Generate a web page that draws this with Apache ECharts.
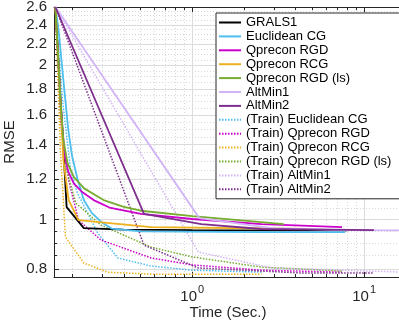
<!DOCTYPE html>
<html><head><meta charset="utf-8">
<script src="https://cdn.jsdelivr.net/npm/echarts@6/dist/echarts.min.js"></script>
<style>html,body{margin:0;padding:0;background:#fff}#c{width:399px;height:322px}</style>
</head><body><div id="c"></div>
<script>
// ---- data (time in seconds, RMSE) ----
const names = ['GRALS1','Euclidean CG','Qprecon RGD','Qprecon RCG','Qprecon RGD (ls)','AltMin1','AltMin2',
  '(Train) Euclidean CG','(Train) Qprecon RGD','(Train) Qprecon RCG','(Train) Qprecon RGD (ls)','(Train) AltMin1','(Train) AltMin2'];
const gralsT = [0.160, 0.186, 0.234, 0.40, 1.0, 3.0, 8.0];
const gralsV = [2.6, 1.057, 0.962, 0.955, 0.953, 0.952, 0.952];
const eucT = [0.160, 0.167, 0.180, 0.190, 0.200, 0.215, 0.234, 0.260, 0.300, 0.340, 0.503, 2.53, 7.75];
const eucV = [2.6, 2.344, 1.80, 1.50, 1.33, 1.20, 1.091, 1.030, 0.985, 0.960, 0.948, 0.945, 0.945];
const rgdT = [0.160, 0.171, 0.181, 0.190, 0.205, 0.230, 0.267, 0.330, 0.503, 1.0, 2.53, 7.43];
const rgdV = [2.6, 1.711, 1.33, 1.24, 1.175, 1.13, 1.091, 1.055, 1.025, 1.002, 0.979, 0.966];
const rcgT = [0.160, 0.171, 0.178, 0.191, 0.218, 0.576, 4.65];
const rcgV = [2.6, 1.711, 1.306, 1.091, 0.997, 0.966, 0.958];
const lsT = [0.160, 0.171, 0.178, 0.188, 0.205, 0.235, 0.305, 0.400, 0.503, 1.0, 2.53, 3.41];
const lsV = [2.6, 1.711, 1.430, 1.290, 1.210, 1.150, 1.091, 1.058, 1.040, 1.015, 0.988, 0.979];
const am1T = [0.160, 1.10, 2.90, 7.43, 17];
const am1V = [2.6, 1.006, 0.962, 0.953, 0.952];
const am2T = [0.160, 0.524, 1.13, 2.53, 11.4];
const am2V = [2.6, 1.025, 0.979, 0.958, 0.953];
const tEucT = [0.160, 0.176, 0.196, 0.215, 0.282, 0.369, 0.576, 1.0, 2.53];
const tEucV = [2.6, 1.711, 1.249, 1.126, 0.941, 0.841, 0.811, 0.796, 0.789];
const tRgdT = [0.160, 0.171, 0.191, 0.218, 0.294, 0.576, 1.0, 2.53, 7.43];
const tRgdV = [2.6, 1.564, 1.194, 0.997, 0.912, 0.841, 0.815, 0.796, 0.789];
const tRcgT = [0.160, 0.171, 0.183, 0.234, 0.322, 0.576, 2.53];
const tRcgV = [2.6, 1.367, 0.924, 0.822, 0.789, 0.782, 0.782];
const tLsT = [0.160, 0.171, 0.186, 0.210, 0.294, 0.576, 1.0, 2.53, 7.43];
const tLsV = [2.6, 1.636, 1.249, 1.077, 0.975, 0.883, 0.845, 0.807, 0.793];
const tAm1T = [0.160, 1.084, 2.90, 17];
const tAm1V = [2.6, 0.864, 0.804, 0.789];
const tAm2T = [0.160, 0.524, 1.084, 4.34, 11.4];
const tAm2V = [2.6, 0.891, 0.804, 0.786, 0.786];
const yMajor = [0.8, 1, 1.2, 1.4, 1.6, 1.8, 2, 2.2, 2.4, 2.6];
const yMinor = [0.8, 0.85, 0.9, 0.95, 1, 1.05, 1.1, 1.15, 1.2, 1.25, 1.3, 1.35, 1.4, 1.45, 1.5, 1.55, 1.6, 1.65, 1.7, 1.75, 1.8, 1.85, 1.9, 1.95, 2, 2.05, 2.1, 2.15, 2.2, 2.25, 2.3, 2.35, 2.4, 2.45, 2.5, 2.55, 2.6];
const xMajor = [1, 10];
const xMinor = [0.2, 0.3, 0.4, 0.5, 0.6, 0.7, 0.8, 0.9, 2, 3, 4, 5, 6, 7, 8, 9];

const series = [
  [gralsT, gralsV], [eucT, eucV], [rgdT, rgdV], [rcgT, rcgV], [lsT, lsV], [am1T, am1V], [am2T, am2V],
  [tEucT, tEucV], [tRgdT, tRgdV], [tRcgT, tRcgV], [tLsT, tLsV], [tAm1T, tAm1V], [tAm2T, tAm2V]
];
const colors = ['#000000','#4DBEEE','#CC00CC','#EDB120','#77AC30','#D2B4F7','#7E2F8E',
  '#4DBEEE','#CC00CC','#EDB120','#77AC30','#D2B4F7','#7E2F8E'];

const FONT = 'Liberation Sans';
const AX = '#262626';
const xMin = 0.157, xMax = 16.6, yMin = 0.772, yMax = 2.6;

function xAx(extra) {
  return Object.assign({type: 'log', min: xMin, max: xMax, logBase: 10,
    axisLine: {show: false}, axisTick: {show: false}, axisLabel: {show: false}, splitLine: {show: false}}, extra);
}
function yAx(extra) {
  return Object.assign({type: 'log', min: yMin, max: yMax, logBase: 10,
    axisLine: {show: false}, axisTick: {show: false}, axisLabel: {show: false}, splitLine: {show: false}}, extra);
}

const chart = echarts.init(document.getElementById('c'), null, {renderer: 'canvas'});
chart.setOption({
  animation: false,
  textStyle: {fontFamily: FONT},
  grid: {left: 54, top: 7, right: -3, bottom: 45, containLabel: false, outerBoundsMode: 'none'},
  xAxis: [
    xAx({position: 'bottom', name: 'Time (Sec.)', nameLocation: 'middle', nameGap: 28, nameMoveOverlap: false,
      nameTextStyle: {fontFamily: FONT, fontSize: 15, color: AX, verticalAlign: 'top'},
      axisLine: {show: true, lineStyle: {color: AX, width: 1}},
      axisTick: {show: true, inside: true, length: 5, lineStyle: {color: AX}, customValues: xMajor},
      axisLabel: {show: true, margin: 4, customValues: xMajor,
        formatter: function (v) { return '{b|10}{s|' + Math.round(Math.log10(v)) + '}'; },
        rich: {b: {fontFamily: FONT, fontSize: 15, color: AX, padding: [8, 1, 0, 0]},
               s: {fontFamily: FONT, fontSize: 11, color: AX, padding: [0, 0, 6, 0]}}},
      splitLine: {show: true, lineStyle: {color: '#dcdcdc', width: 1}}
    }),
    xAx({position: 'bottom',
      axisTick: {show: true, inside: true, length: 3, lineStyle: {color: AX}, customValues: xMinor},
      splitLine: {show: true, lineStyle: {color: '#d9d9d9', width: 1, type: [1, 2]}}}),
    xAx({position: 'top', axisLine: {show: true, lineStyle: {color: AX, width: 1}},
      axisTick: {show: true, inside: true, length: 5, lineStyle: {color: AX}, customValues: xMajor}}),
    xAx({position: 'top',
      axisTick: {show: true, inside: true, length: 3, lineStyle: {color: AX}, customValues: xMinor}})
  ],
  yAxis: [
    yAx({position: 'left', name: 'RMSE', nameLocation: 'middle', nameGap: 37, nameMoveOverlap: false,
      nameTextStyle: {fontFamily: FONT, fontSize: 15, color: AX},
      axisLine: {show: true, lineStyle: {color: AX, width: 1}},
      axisTick: {show: true, inside: true, length: 5, lineStyle: {color: AX}, customValues: yMajor},
      axisLabel: {show: true, margin: 7, customValues: yMajor, fontFamily: FONT, fontSize: 15, color: AX,
        formatter: function (v) { return String(Math.round(v * 10) / 10); }},
      splitLine: {show: true, lineStyle: {color: '#dcdcdc', width: 1}}
    }),
    yAx({position: 'left',
      axisTick: {show: true, inside: true, length: 3, lineStyle: {color: AX}, customValues: yMinor},
      splitLine: {show: true, lineStyle: {color: '#d9d9d9', width: 1, type: [1, 2]}}})
  ],
  legend: {
    show: true, data: names, orient: 'vertical', left: 216, top: 13,
    padding: [3, 16, 3, 2], itemGap: 0.9, itemWidth: 22, itemHeight: 13,
    backgroundColor: '#fff', borderColor: AX, borderWidth: 1, borderRadius: 0,
    textStyle: {fontFamily: FONT, fontSize: 13, color: '#000', lineHeight: 13},
    itemStyle: {opacity: 0}, selectedMode: false
  },
  series: series.map(function (s, i) {
    const train = i >= 7;
    return {
      name: names[i], type: 'line', xAxisIndex: 0, yAxisIndex: 0,
      data: s[0].map(function (t, k) { return [t, s[1][k]]; }),
      symbol: 'none', smooth: false, z: train ? 3 : 4,
      lineStyle: {color: colors[i], width: train ? 1.5 : 1.8, type: train ? [1.5, 1.5] : 'solid'},
      itemStyle: {color: colors[i]}
    };
  })
});
</script></body></html>
